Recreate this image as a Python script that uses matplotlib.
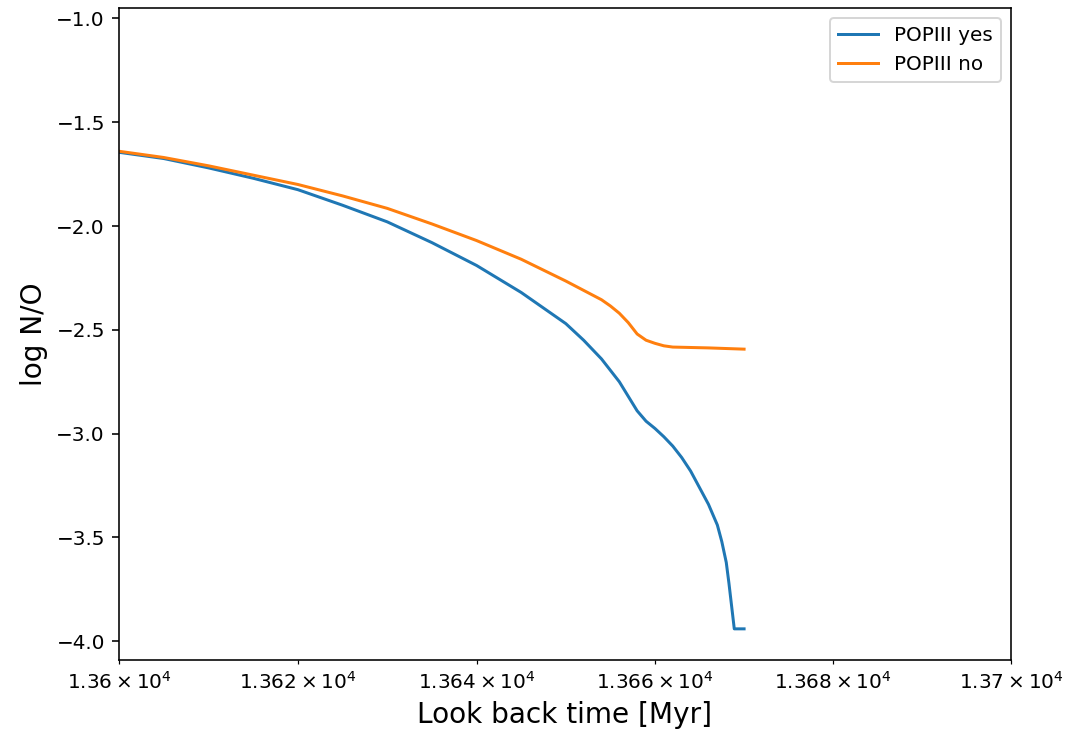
import matplotlib
matplotlib.use("Agg")
import matplotlib.pyplot as plt

# look back time [Myr] and log N/O for the two runs
t_yes = [13600, 13605, 13610, 13615, 13620, 13625, 13630, 13635, 13640, 13645,
         13650, 13652, 13654, 13656, 13657, 13658, 13659, 13660, 13661, 13662,
         13663, 13664, 13665, 13666, 13667, 13667.5, 13668, 13668.3, 13668.6,
         13668.9, 13670]
no_yes = [-1.645, -1.675, -1.72, -1.77, -1.825, -1.90, -1.98, -2.08, -2.19, -2.32,
          -2.47, -2.55, -2.64, -2.75, -2.82, -2.89, -2.94, -2.975, -3.015, -3.06,
          -3.115, -3.18, -3.26, -3.34, -3.44, -3.52, -3.62, -3.72, -3.83,
          -3.94, -3.94]

t_no = [13600, 13605, 13610, 13615, 13620, 13625, 13630, 13635, 13640, 13645,
        13650, 13652, 13654, 13655, 13656, 13657, 13658, 13659, 13660, 13661,
        13662, 13666, 13670]
no_no = [-1.64, -1.67, -1.71, -1.755, -1.80, -1.855, -1.915, -1.99, -2.07, -2.16,
         -2.265, -2.31, -2.355, -2.385, -2.42, -2.465, -2.52, -2.55, -2.565, -2.577,
         -2.583, -2.587, -2.593]

fig, ax = plt.subplots(figsize=(1065 / 144, 739 / 144), dpi=144)
fig.subplots_adjust(left=0.1117, right=0.9493, top=0.9892, bottom=0.1069)

ax.plot(t_yes, no_yes, label='POPIII yes')
ax.plot(t_no, no_no, label='POPIII no')

ax.set_xscale('log')
ax.set_xlim(13600, 13700)
ax.set_ylim(-4.09, -0.95)
ax.set_xlabel('Look back time [Myr]', fontsize=14)
ax.set_ylabel('log N/O', fontsize=14)
ax.legend(loc='upper right')

fig.savefig('out.png', dpi=144)
